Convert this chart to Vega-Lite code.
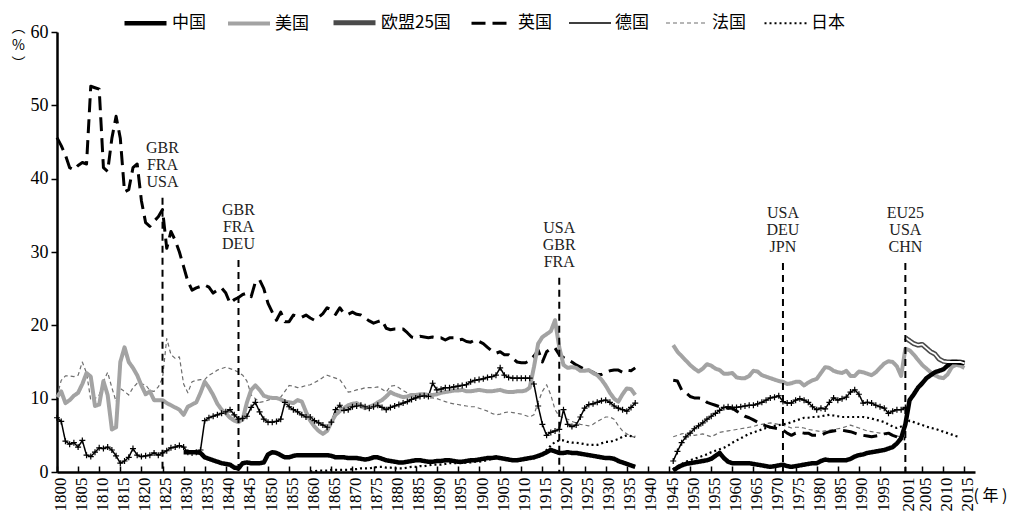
{
"$schema":"https://vega.github.io/schema/vega-lite/v6.json",
"width":918,"height":440,"autosize":"none",
"padding":{"left":57,"top":32,"right":40,"bottom":45},
"background":"white",
"config":{"view":{"stroke":null},"font":"Liberation Serif"},
"data":{"values":[
{"c":"法国","t":1800,"v":10.3},{"c":"法国","t":1801,"v":12.5},{"c":"法国","t":1802,"v":13.1},{"c":"法国","t":1803,"v":13.1},{"c":"法国","t":1804,"v":13.0},{"c":"法国","t":1805,"v":13.2},{"c":"法国","t":1806,"v":15.0},{"c":"法国","t":1807,"v":13.5},{"c":"法国","t":1808,"v":9.8},{"c":"法国","t":1809,"v":10.0},{"c":"法国","t":1810,"v":10.5},{"c":"法国","t":1811,"v":12.3},{"c":"法国","t":1812,"v":13.6},{"c":"法国","t":1813,"v":11.5},{"c":"法国","t":1814,"v":9.6},{"c":"法国","t":1815,"v":11.4},{"c":"法国","t":1816,"v":11.0},{"c":"法国","t":1817,"v":10.5},{"c":"法国","t":1818,"v":11.5},{"c":"法国","t":1819,"v":12.1},{"c":"法国","t":1820,"v":12.0},{"c":"法国","t":1821,"v":11.9},{"c":"法国","t":1822,"v":11.1},{"c":"法国","t":1823,"v":11.0},{"c":"法国","t":1824,"v":11.6},{"c":"法国","t":1825,"v":12.8},{"c":"法国","t":1826,"v":18.2},{"c":"法国","t":1827,"v":16.0},{"c":"法国","t":1828,"v":15.5},{"c":"法国","t":1829,"v":15.7},{"c":"法国","t":1830,"v":12.0},{"c":"法国","t":1831,"v":10.8},{"c":"法国","t":1832,"v":12.3},{"c":"法国","t":1833,"v":12.5},{"c":"法国","t":1834,"v":12.6},{"c":"法国","t":1835,"v":12.6},{"c":"法国","t":1836,"v":13.2},{"c":"法国","t":1837,"v":13.5},{"c":"法国","t":1838,"v":13.9},{"c":"法国","t":1839,"v":14.1},{"c":"法国","t":1840,"v":14.3},{"c":"法国","t":1841,"v":14.1},{"c":"法国","t":1842,"v":13.9},{"c":"法国","t":1843,"v":13.6},{"c":"法国","t":1844,"v":13.2},{"c":"法国","t":1845,"v":12.4},{"c":"法国","t":1846,"v":10.5},{"c":"法国","t":1847,"v":10.0},{"c":"法国","t":1848,"v":9.5},{"c":"法国","t":1849,"v":9.6},{"c":"法国","t":1850,"v":9.8},{"c":"法国","t":1851,"v":10.0},{"c":"法国","t":1852,"v":10.1},{"c":"法国","t":1853,"v":10.2},{"c":"法国","t":1854,"v":11.0},{"c":"法国","t":1855,"v":11.8},{"c":"法国","t":1856,"v":11.7},{"c":"法国","t":1857,"v":11.5},{"c":"法国","t":1858,"v":11.6},{"c":"法国","t":1859,"v":11.8},{"c":"法国","t":1860,"v":11.9},{"c":"法国","t":1861,"v":12.2},{"c":"法国","t":1862,"v":12.5},{"c":"法国","t":1863,"v":12.9},{"c":"法国","t":1864,"v":13.2},{"c":"法国","t":1865,"v":13.0},{"c":"法国","t":1866,"v":12.8},{"c":"法国","t":1867,"v":12.6},{"c":"法国","t":1868,"v":11.8},{"c":"法国","t":1869,"v":10.9},{"c":"法国","t":1870,"v":11.0},{"c":"法国","t":1871,"v":11.2},{"c":"法国","t":1872,"v":11.3},{"c":"法国","t":1873,"v":11.5},{"c":"法国","t":1874,"v":11.5},{"c":"法国","t":1875,"v":11.5},{"c":"法国","t":1876,"v":11.6},{"c":"法国","t":1877,"v":11.3},{"c":"法国","t":1878,"v":10.9},{"c":"法国","t":1879,"v":11.7},{"c":"法国","t":1880,"v":11.8},{"c":"法国","t":1881,"v":11.5},{"c":"法国","t":1882,"v":11.1},{"c":"法国","t":1883,"v":10.8},{"c":"法国","t":1884,"v":10.5},{"c":"法国","t":1885,"v":10.5},{"c":"法国","t":1886,"v":10.5},{"c":"法国","t":1887,"v":10.3},{"c":"法国","t":1888,"v":10.1},{"c":"法国","t":1889,"v":10.1},{"c":"法国","t":1890,"v":10.0},{"c":"法国","t":1891,"v":9.8},{"c":"法国","t":1892,"v":9.6},{"c":"法国","t":1893,"v":9.4},{"c":"法国","t":1894,"v":9.3},{"c":"法国","t":1895,"v":9.2},{"c":"法国","t":1896,"v":9.1},{"c":"法国","t":1897,"v":9.0},{"c":"法国","t":1898,"v":8.9},{"c":"法国","t":1899,"v":8.9},{"c":"法国","t":1900,"v":8.7},{"c":"法国","t":1901,"v":8.5},{"c":"法国","t":1902,"v":8.3},{"c":"法国","t":1903,"v":8.0},{"c":"法国","t":1904,"v":7.8},{"c":"法国","t":1905,"v":7.9},{"c":"法国","t":1906,"v":8.1},{"c":"法国","t":1907,"v":8.2},{"c":"法国","t":1908,"v":8.1},{"c":"法国","t":1909,"v":8.0},{"c":"法国","t":1910,"v":7.9},{"c":"法国","t":1911,"v":7.7},{"c":"法国","t":1912,"v":7.5},{"c":"法国","t":1913,"v":7.8},{"c":"法国","t":1914,"v":9.5},{"c":"法国","t":1915,"v":11.0},{"c":"法国","t":1916,"v":11.9},{"c":"法国","t":1917,"v":10.5},{"c":"法国","t":1918,"v":8.5},{"c":"法国","t":1919,"v":7.6},{"c":"法国","t":1920,"v":7.4},{"c":"法国","t":1921,"v":7.2},{"c":"法国","t":1922,"v":6.9},{"c":"法国","t":1923,"v":6.7},{"c":"法国","t":1924,"v":6.5},{"c":"法国","t":1925,"v":6.4},{"c":"法国","t":1926,"v":6.3},{"c":"法国","t":1927,"v":6.5},{"c":"法国","t":1928,"v":6.9},{"c":"法国","t":1929,"v":7.2},{"c":"法国","t":1930,"v":7.5},{"c":"法国","t":1931,"v":7.5},{"c":"法国","t":1932,"v":7.2},{"c":"法国","t":1933,"v":6.3},{"c":"法国","t":1934,"v":5.6},{"c":"法国","t":1935,"v":5.2},{"c":"法国","t":1936,"v":4.9},{"c":"法国","t":1937,"v":4.7},{"c":"法国","t":1940,"v":null},
{"c":"法国","t":1946,"v":4.8},{"c":"法国","t":1947,"v":5.0},{"c":"法国","t":1948,"v":5.2},{"c":"法国","t":1949,"v":5.3},{"c":"法国","t":1950,"v":5.2},{"c":"法国","t":1951,"v":5.0},{"c":"法国","t":1952,"v":5.1},{"c":"法国","t":1953,"v":5.2},{"c":"法国","t":1954,"v":5.0},{"c":"法国","t":1955,"v":4.8},{"c":"法国","t":1956,"v":5.1},{"c":"法国","t":1957,"v":5.4},{"c":"法国","t":1958,"v":5.5},{"c":"法国","t":1959,"v":5.6},{"c":"法国","t":1960,"v":5.7},{"c":"法国","t":1961,"v":5.8},{"c":"法国","t":1962,"v":5.9},{"c":"法国","t":1963,"v":6.0},{"c":"法国","t":1964,"v":6.1},{"c":"法国","t":1965,"v":6.2},{"c":"法国","t":1966,"v":6.4},{"c":"法国","t":1967,"v":6.5},{"c":"法国","t":1968,"v":6.6},{"c":"法国","t":1969,"v":6.7},{"c":"法国","t":1970,"v":6.6},{"c":"法国","t":1971,"v":6.5},{"c":"法国","t":1972,"v":6.4},{"c":"法国","t":1973,"v":6.2},{"c":"法国","t":1974,"v":6.0},{"c":"法国","t":1975,"v":6.1},{"c":"法国","t":1976,"v":6.1},{"c":"法国","t":1977,"v":6.0},{"c":"法国","t":1978,"v":5.8},{"c":"法国","t":1979,"v":5.7},{"c":"法国","t":1980,"v":5.6},{"c":"法国","t":1981,"v":5.5},{"c":"法国","t":1982,"v":5.6},{"c":"法国","t":1983,"v":5.7},{"c":"法国","t":1984,"v":5.8},{"c":"法国","t":1985,"v":5.9},{"c":"法国","t":1986,"v":6.0},{"c":"法国","t":1987,"v":6.2},{"c":"法国","t":1988,"v":6.4},{"c":"法国","t":1989,"v":6.2},{"c":"法国","t":1990,"v":6.0},{"c":"法国","t":1991,"v":5.8},{"c":"法国","t":1992,"v":5.6},{"c":"法国","t":1993,"v":5.5},{"c":"法国","t":1994,"v":5.4},{"c":"法国","t":1995,"v":5.3},{"c":"法国","t":1996,"v":5.2},{"c":"法国","t":1997,"v":5.0},{"c":"法国","t":1998,"v":5.0},{"c":"法国","t":1999,"v":4.9},{"c":"法国","t":2000,"v":4.8},{"c":"法国","t":2001,"v":4.7},
{"c":"日本","t":1860,"v":0.1},{"c":"日本","t":1861,"v":0.1},{"c":"日本","t":1862,"v":0.2},{"c":"日本","t":1863,"v":0.2},{"c":"日本","t":1864,"v":0.2},{"c":"日本","t":1865,"v":0.3},{"c":"日本","t":1866,"v":0.3},{"c":"日本","t":1867,"v":0.3},{"c":"日本","t":1868,"v":0.3},{"c":"日本","t":1869,"v":0.3},{"c":"日本","t":1870,"v":0.4},{"c":"日本","t":1871,"v":0.4},{"c":"日本","t":1872,"v":0.5},{"c":"日本","t":1873,"v":0.5},{"c":"日本","t":1874,"v":0.5},{"c":"日本","t":1875,"v":0.6},{"c":"日本","t":1876,"v":0.7},{"c":"日本","t":1877,"v":0.7},{"c":"日本","t":1878,"v":0.6},{"c":"日本","t":1879,"v":0.6},{"c":"日本","t":1880,"v":0.5},{"c":"日本","t":1881,"v":0.5},{"c":"日本","t":1882,"v":0.5},{"c":"日本","t":1883,"v":0.6},{"c":"日本","t":1884,"v":0.7},{"c":"日本","t":1885,"v":0.7},{"c":"日本","t":1886,"v":0.8},{"c":"日本","t":1887,"v":0.8},{"c":"日本","t":1888,"v":0.9},{"c":"日本","t":1889,"v":1.0},{"c":"日本","t":1890,"v":1.0},{"c":"日本","t":1891,"v":1.0},{"c":"日本","t":1892,"v":1.1},{"c":"日本","t":1893,"v":1.2},{"c":"日本","t":1894,"v":1.2},{"c":"日本","t":1895,"v":1.2},{"c":"日本","t":1896,"v":1.2},{"c":"日本","t":1897,"v":1.3},{"c":"日本","t":1898,"v":1.3},{"c":"日本","t":1899,"v":1.4},{"c":"日本","t":1900,"v":1.4},{"c":"日本","t":1901,"v":1.5},{"c":"日本","t":1902,"v":1.6},{"c":"日本","t":1903,"v":1.8},{"c":"日本","t":1904,"v":1.9},{"c":"日本","t":1905,"v":1.8},{"c":"日本","t":1906,"v":1.7},{"c":"日本","t":1907,"v":1.6},{"c":"日本","t":1908,"v":1.6},{"c":"日本","t":1909,"v":1.7},{"c":"日本","t":1910,"v":1.7},{"c":"日本","t":1911,"v":1.8},{"c":"日本","t":1912,"v":1.9},{"c":"日本","t":1913,"v":1.9},{"c":"日本","t":1914,"v":2.0},{"c":"日本","t":1915,"v":2.4},{"c":"日本","t":1916,"v":3.0},{"c":"日本","t":1917,"v":3.6},{"c":"日本","t":1918,"v":4.1},{"c":"日本","t":1919,"v":4.3},{"c":"日本","t":1920,"v":4.3},{"c":"日本","t":1921,"v":4.1},{"c":"日本","t":1922,"v":4.0},{"c":"日本","t":1923,"v":4.0},{"c":"日本","t":1924,"v":3.9},{"c":"日本","t":1925,"v":3.8},{"c":"日本","t":1926,"v":3.7},{"c":"日本","t":1927,"v":3.7},{"c":"日本","t":1928,"v":3.7},{"c":"日本","t":1929,"v":3.9},{"c":"日本","t":1930,"v":4.1},{"c":"日本","t":1931,"v":4.1},{"c":"日本","t":1932,"v":4.3},{"c":"日本","t":1933,"v":4.5},{"c":"日本","t":1934,"v":4.8},{"c":"日本","t":1935,"v":5.0},{"c":"日本","t":1936,"v":4.9},{"c":"日本","t":1937,"v":4.8},{"c":"日本","t":1940,"v":null},
{"c":"日本","t":1946,"v":0.4},{"c":"日本","t":1947,"v":0.8},{"c":"日本","t":1948,"v":1.1},{"c":"日本","t":1949,"v":1.4},{"c":"日本","t":1950,"v":1.6},{"c":"日本","t":1951,"v":1.8},{"c":"日本","t":1952,"v":2.0},{"c":"日本","t":1953,"v":2.2},{"c":"日本","t":1954,"v":2.4},{"c":"日本","t":1955,"v":2.7},{"c":"日本","t":1956,"v":2.9},{"c":"日本","t":1957,"v":3.1},{"c":"日本","t":1958,"v":3.3},{"c":"日本","t":1959,"v":3.6},{"c":"日本","t":1960,"v":4.0},{"c":"日本","t":1961,"v":4.3},{"c":"日本","t":1962,"v":4.6},{"c":"日本","t":1963,"v":4.9},{"c":"日本","t":1964,"v":5.2},{"c":"日本","t":1965,"v":5.4},{"c":"日本","t":1966,"v":5.6},{"c":"日本","t":1967,"v":5.8},{"c":"日本","t":1968,"v":6.0},{"c":"日本","t":1969,"v":6.1},{"c":"日本","t":1970,"v":6.3},{"c":"日本","t":1971,"v":6.4},{"c":"日本","t":1972,"v":6.5},{"c":"日本","t":1973,"v":6.6},{"c":"日本","t":1974,"v":6.8},{"c":"日本","t":1975,"v":7.0},{"c":"日本","t":1976,"v":7.2},{"c":"日本","t":1977,"v":7.4},{"c":"日本","t":1978,"v":7.4},{"c":"日本","t":1979,"v":7.5},{"c":"日本","t":1980,"v":7.5},{"c":"日本","t":1981,"v":7.6},{"c":"日本","t":1982,"v":7.7},{"c":"日本","t":1983,"v":7.8},{"c":"日本","t":1984,"v":7.7},{"c":"日本","t":1985,"v":7.6},{"c":"日本","t":1986,"v":7.5},{"c":"日本","t":1987,"v":7.5},{"c":"日本","t":1988,"v":7.5},{"c":"日本","t":1989,"v":7.5},{"c":"日本","t":1990,"v":7.5},{"c":"日本","t":1991,"v":7.5},{"c":"日本","t":1992,"v":7.4},{"c":"日本","t":1993,"v":7.3},{"c":"日本","t":1994,"v":7.1},{"c":"日本","t":1995,"v":7.0},{"c":"日本","t":1996,"v":6.8},{"c":"日本","t":1997,"v":6.5},{"c":"日本","t":1998,"v":6.2},{"c":"日本","t":1999,"v":6.0},{"c":"日本","t":2000,"v":6.2},{"c":"日本","t":2001,"v":6.5},{"c":"日本","t":2002,"v":7.0},{"c":"日本","t":2003,"v":6.8},{"c":"日本","t":2004,"v":6.6},{"c":"日本","t":2005,"v":6.4},{"c":"日本","t":2006,"v":6.2},{"c":"日本","t":2007,"v":6.0},{"c":"日本","t":2008,"v":5.9},{"c":"日本","t":2009,"v":5.7},{"c":"日本","t":2010,"v":5.5},{"c":"日本","t":2011,"v":5.3},{"c":"日本","t":2012,"v":5.1},{"c":"日本","t":2013,"v":4.9},{"c":"日本","t":2014,"v":4.8},
{"c":"德国","t":1800,"v":7.4},{"c":"德国","t":1801,"v":6.9},{"c":"德国","t":1802,"v":4.2},{"c":"德国","t":1803,"v":3.8},{"c":"德国","t":1804,"v":4.0},{"c":"德国","t":1805,"v":3.4},{"c":"德国","t":1806,"v":4.3},{"c":"德国","t":1807,"v":2.3},{"c":"德国","t":1808,"v":2.1},{"c":"德国","t":1809,"v":2.7},{"c":"德国","t":1810,"v":3.3},{"c":"德国","t":1811,"v":3.2},{"c":"德国","t":1812,"v":3.4},{"c":"德国","t":1813,"v":3.0},{"c":"德国","t":1814,"v":2.2},{"c":"德国","t":1815,"v":1.2},{"c":"德国","t":1816,"v":1.5},{"c":"德国","t":1817,"v":2.0},{"c":"德国","t":1818,"v":3.2},{"c":"德国","t":1819,"v":2.3},{"c":"德国","t":1820,"v":2.1},{"c":"德国","t":1821,"v":2.2},{"c":"德国","t":1822,"v":2.3},{"c":"德国","t":1823,"v":2.6},{"c":"德国","t":1824,"v":2.3},{"c":"德国","t":1825,"v":2.6},{"c":"德国","t":1826,"v":2.9},{"c":"德国","t":1827,"v":3.3},{"c":"德国","t":1828,"v":3.4},{"c":"德国","t":1829,"v":3.6},{"c":"德国","t":1830,"v":3.4},{"c":"德国","t":1831,"v":2.7},{"c":"德国","t":1832,"v":2.6},{"c":"德国","t":1833,"v":2.7},{"c":"德国","t":1834,"v":3.0},{"c":"德国","t":1835,"v":7.0},{"c":"德国","t":1836,"v":7.4},{"c":"德国","t":1837,"v":7.6},{"c":"德国","t":1838,"v":7.8},{"c":"德国","t":1839,"v":8.0},{"c":"德国","t":1840,"v":8.2},{"c":"德国","t":1841,"v":8.5},{"c":"德国","t":1842,"v":7.8},{"c":"德国","t":1843,"v":7.2},{"c":"德国","t":1844,"v":7.3},{"c":"德国","t":1845,"v":7.6},{"c":"德国","t":1846,"v":8.8},{"c":"德国","t":1847,"v":9.5},{"c":"德国","t":1848,"v":8.2},{"c":"德国","t":1849,"v":7.2},{"c":"德国","t":1850,"v":6.8},{"c":"德国","t":1851,"v":6.8},{"c":"德国","t":1852,"v":6.9},{"c":"德国","t":1853,"v":7.2},{"c":"德国","t":1854,"v":9.5},{"c":"德国","t":1855,"v":8.9},{"c":"德国","t":1856,"v":8.5},{"c":"德国","t":1857,"v":8.2},{"c":"德国","t":1858,"v":7.8},{"c":"德国","t":1859,"v":7.5},{"c":"德国","t":1860,"v":7.5},{"c":"德国","t":1861,"v":7.0},{"c":"德国","t":1862,"v":6.7},{"c":"德国","t":1863,"v":6.4},{"c":"德国","t":1864,"v":6.1},{"c":"德国","t":1865,"v":6.8},{"c":"德国","t":1866,"v":8.5},{"c":"德国","t":1867,"v":9.1},{"c":"德国","t":1868,"v":8.4},{"c":"德国","t":1869,"v":8.5},{"c":"德国","t":1870,"v":8.9},{"c":"德国","t":1871,"v":9.0},{"c":"德国","t":1872,"v":9.1},{"c":"德国","t":1873,"v":8.9},{"c":"德国","t":1874,"v":8.7},{"c":"德国","t":1875,"v":8.9},{"c":"德国","t":1876,"v":9.1},{"c":"德国","t":1877,"v":8.8},{"c":"德国","t":1878,"v":8.5},{"c":"德国","t":1879,"v":8.8},{"c":"德国","t":1880,"v":9.0},{"c":"德国","t":1881,"v":9.2},{"c":"德国","t":1882,"v":9.4},{"c":"德国","t":1883,"v":9.6},{"c":"德国","t":1884,"v":9.9},{"c":"德国","t":1885,"v":10.1},{"c":"德国","t":1886,"v":10.3},{"c":"德国","t":1887,"v":10.4},{"c":"德国","t":1888,"v":10.3},{"c":"德国","t":1889,"v":12.1},{"c":"德国","t":1890,"v":11.2},{"c":"德国","t":1891,"v":11.3},{"c":"德国","t":1892,"v":11.5},{"c":"德国","t":1893,"v":11.5},{"c":"德国","t":1894,"v":11.6},{"c":"德国","t":1895,"v":11.7},{"c":"德国","t":1896,"v":11.8},{"c":"德国","t":1897,"v":11.9},{"c":"德国","t":1898,"v":12.3},{"c":"德国","t":1899,"v":12.5},{"c":"德国","t":1900,"v":12.6},{"c":"德国","t":1901,"v":12.7},{"c":"德国","t":1902,"v":12.9},{"c":"德国","t":1903,"v":13.0},{"c":"德国","t":1904,"v":13.2},{"c":"德国","t":1905,"v":14.2},{"c":"德国","t":1906,"v":13.2},{"c":"德国","t":1907,"v":12.9},{"c":"德国","t":1908,"v":12.8},{"c":"德国","t":1909,"v":12.8},{"c":"德国","t":1910,"v":12.8},{"c":"德国","t":1911,"v":12.8},{"c":"德国","t":1912,"v":12.8},{"c":"德国","t":1913,"v":12.0},{"c":"德国","t":1914,"v":9.0},{"c":"德国","t":1915,"v":6.5},{"c":"德国","t":1916,"v":5.0},{"c":"德国","t":1917,"v":5.4},{"c":"德国","t":1918,"v":5.6},{"c":"德国","t":1919,"v":5.8},{"c":"德国","t":1920,"v":8.5},{"c":"德国","t":1921,"v":6.5},{"c":"德国","t":1922,"v":6.2},{"c":"德国","t":1923,"v":6.4},{"c":"德国","t":1924,"v":7.5},{"c":"德国","t":1925,"v":8.7},{"c":"德国","t":1926,"v":9.2},{"c":"德国","t":1927,"v":9.3},{"c":"德国","t":1928,"v":9.5},{"c":"德国","t":1929,"v":9.7},{"c":"德国","t":1930,"v":9.8},{"c":"德国","t":1931,"v":9.5},{"c":"德国","t":1932,"v":9.0},{"c":"德国","t":1933,"v":8.7},{"c":"德国","t":1934,"v":8.5},{"c":"德国","t":1935,"v":8.3},{"c":"德国","t":1936,"v":8.8},{"c":"德国","t":1937,"v":9.4},{"c":"德国","t":1940,"v":null},
{"c":"德国","t":1946,"v":1.5},{"c":"德国","t":1947,"v":2.8},{"c":"德国","t":1948,"v":4.0},{"c":"德国","t":1949,"v":4.8},{"c":"德国","t":1950,"v":5.3},{"c":"德国","t":1951,"v":5.9},{"c":"德国","t":1952,"v":6.3},{"c":"德国","t":1953,"v":6.7},{"c":"德国","t":1954,"v":7.2},{"c":"德国","t":1955,"v":7.6},{"c":"德国","t":1956,"v":8.0},{"c":"德国","t":1957,"v":8.4},{"c":"德国","t":1958,"v":8.8},{"c":"德国","t":1959,"v":8.9},{"c":"德国","t":1960,"v":8.8},{"c":"德国","t":1961,"v":8.8},{"c":"德国","t":1962,"v":8.9},{"c":"德国","t":1963,"v":9.0},{"c":"德国","t":1964,"v":9.1},{"c":"德国","t":1965,"v":9.1},{"c":"德国","t":1966,"v":9.3},{"c":"德国","t":1967,"v":9.5},{"c":"德国","t":1968,"v":9.8},{"c":"德国","t":1969,"v":10.1},{"c":"德国","t":1970,"v":10.2},{"c":"德国","t":1971,"v":10.4},{"c":"德国","t":1972,"v":9.6},{"c":"德国","t":1973,"v":9.4},{"c":"德国","t":1974,"v":9.4},{"c":"德国","t":1975,"v":9.8},{"c":"德国","t":1976,"v":10.0},{"c":"德国","t":1977,"v":9.8},{"c":"德国","t":1978,"v":9.5},{"c":"德国","t":1979,"v":8.9},{"c":"德国","t":1980,"v":8.5},{"c":"德国","t":1981,"v":8.7},{"c":"德国","t":1982,"v":8.6},{"c":"德国","t":1983,"v":9.5},{"c":"德国","t":1984,"v":10.1},{"c":"德国","t":1985,"v":9.8},{"c":"德国","t":1986,"v":10.0},{"c":"德国","t":1987,"v":10.2},{"c":"德国","t":1988,"v":10.9},{"c":"德国","t":1989,"v":11.2},{"c":"德国","t":1990,"v":10.6},{"c":"德国","t":1991,"v":9.4},{"c":"德国","t":1992,"v":9.5},{"c":"德国","t":1993,"v":9.4},{"c":"德国","t":1994,"v":9.1},{"c":"德国","t":1995,"v":8.9},{"c":"德国","t":1996,"v":8.7},{"c":"德国","t":1997,"v":8.0},{"c":"德国","t":1998,"v":8.3},{"c":"德国","t":1999,"v":8.5},{"c":"德国","t":2000,"v":8.5},{"c":"德国","t":2001,"v":8.8},
{"c":"英国","t":1800,"v":45.6},{"c":"英国","t":1801,"v":44.5},{"c":"英国","t":1802,"v":43.2},{"c":"英国","t":1803,"v":41.5},{"c":"英国","t":1804,"v":41.2},{"c":"英国","t":1805,"v":41.8},{"c":"英国","t":1806,"v":42.2},{"c":"英国","t":1807,"v":42.0},{"c":"英国","t":1808,"v":52.6},{"c":"英国","t":1809,"v":52.4},{"c":"英国","t":1810,"v":52.2},{"c":"英国","t":1811,"v":41.5},{"c":"英国","t":1812,"v":41.0},{"c":"英国","t":1813,"v":45.5},{"c":"英国","t":1814,"v":48.5},{"c":"英国","t":1815,"v":45.5},{"c":"英国","t":1816,"v":38.2},{"c":"英国","t":1817,"v":38.5},{"c":"英国","t":1818,"v":41.5},{"c":"英国","t":1819,"v":42.0},{"c":"英国","t":1820,"v":37.0},{"c":"英国","t":1821,"v":34.0},{"c":"英国","t":1822,"v":33.5},{"c":"英国","t":1823,"v":34.2},{"c":"英国","t":1824,"v":34.8},{"c":"英国","t":1825,"v":35.8},{"c":"英国","t":1826,"v":30.5},{"c":"英国","t":1827,"v":32.8},{"c":"英国","t":1828,"v":31.6},{"c":"英国","t":1829,"v":30.0},{"c":"英国","t":1830,"v":28.0},{"c":"英国","t":1831,"v":26.0},{"c":"英国","t":1832,"v":24.8},{"c":"英国","t":1833,"v":25.1},{"c":"英国","t":1834,"v":25.3},{"c":"英国","t":1835,"v":25.5},{"c":"英国","t":1836,"v":25.2},{"c":"英国","t":1837,"v":24.4},{"c":"英国","t":1838,"v":24.8},{"c":"英国","t":1839,"v":25.1},{"c":"英国","t":1840,"v":24.4},{"c":"英国","t":1841,"v":23.0},{"c":"英国","t":1842,"v":23.5},{"c":"英国","t":1843,"v":23.8},{"c":"英国","t":1844,"v":24.2},{"c":"英国","t":1845,"v":24.4},{"c":"英国","t":1846,"v":23.9},{"c":"英国","t":1847,"v":25.9},{"c":"英国","t":1848,"v":26.2},{"c":"英国","t":1849,"v":25.0},{"c":"英国","t":1850,"v":23.0},{"c":"英国","t":1851,"v":21.8},{"c":"英国","t":1852,"v":20.7},{"c":"英国","t":1853,"v":21.8},{"c":"英国","t":1854,"v":20.5},{"c":"英国","t":1855,"v":20.5},{"c":"英国","t":1856,"v":21.4},{"c":"英国","t":1857,"v":21.2},{"c":"英国","t":1858,"v":21.1},{"c":"英国","t":1859,"v":21.4},{"c":"英国","t":1860,"v":21.0},{"c":"英国","t":1861,"v":20.7},{"c":"英国","t":1862,"v":21.1},{"c":"英国","t":1863,"v":21.6},{"c":"英国","t":1864,"v":22.4},{"c":"英国","t":1865,"v":22.1},{"c":"英国","t":1866,"v":21.5},{"c":"英国","t":1867,"v":22.4},{"c":"英国","t":1868,"v":21.6},{"c":"英国","t":1869,"v":21.5},{"c":"英国","t":1870,"v":21.8},{"c":"英国","t":1871,"v":21.5},{"c":"英国","t":1872,"v":21.4},{"c":"英国","t":1873,"v":21.0},{"c":"英国","t":1874,"v":20.6},{"c":"英国","t":1875,"v":20.3},{"c":"英国","t":1876,"v":20.5},{"c":"英国","t":1877,"v":20.7},{"c":"英国","t":1878,"v":19.6},{"c":"英国","t":1879,"v":19.4},{"c":"英国","t":1880,"v":19.5},{"c":"英国","t":1881,"v":19.5},{"c":"英国","t":1882,"v":19.5},{"c":"英国","t":1883,"v":19.0},{"c":"英国","t":1884,"v":18.4},{"c":"英国","t":1885,"v":18.3},{"c":"英国","t":1886,"v":18.5},{"c":"英国","t":1887,"v":18.4},{"c":"英国","t":1888,"v":18.3},{"c":"英国","t":1889,"v":18.4},{"c":"英国","t":1890,"v":18.3},{"c":"英国","t":1891,"v":18.3},{"c":"英国","t":1892,"v":18.0},{"c":"英国","t":1893,"v":18.3},{"c":"英国","t":1894,"v":18.3},{"c":"英国","t":1895,"v":18.0},{"c":"英国","t":1896,"v":18.1},{"c":"英国","t":1897,"v":17.8},{"c":"英国","t":1898,"v":17.7},{"c":"英国","t":1899,"v":18.0},{"c":"英国","t":1900,"v":17.8},{"c":"英国","t":1901,"v":17.5},{"c":"英国","t":1902,"v":17.0},{"c":"英国","t":1903,"v":16.5},{"c":"英国","t":1904,"v":16.2},{"c":"英国","t":1905,"v":16.4},{"c":"英国","t":1906,"v":16.0},{"c":"英国","t":1907,"v":16.0},{"c":"英国","t":1908,"v":15.5},{"c":"英国","t":1909,"v":15.0},{"c":"英国","t":1910,"v":14.9},{"c":"英国","t":1911,"v":14.9},{"c":"英国","t":1912,"v":15.2},{"c":"英国","t":1913,"v":15.8},{"c":"英国","t":1914,"v":16.6},{"c":"英国","t":1915,"v":15.0},{"c":"英国","t":1916,"v":16.4},{"c":"英国","t":1917,"v":16.8},{"c":"英国","t":1918,"v":16.9},{"c":"英国","t":1919,"v":16.0},{"c":"英国","t":1920,"v":15.6},{"c":"英国","t":1921,"v":15.3},{"c":"英国","t":1922,"v":15.0},{"c":"英国","t":1923,"v":14.6},{"c":"英国","t":1924,"v":14.3},{"c":"英国","t":1925,"v":14.0},{"c":"英国","t":1926,"v":13.8},{"c":"英国","t":1927,"v":13.6},{"c":"英国","t":1928,"v":13.3},{"c":"英国","t":1929,"v":13.3},{"c":"英国","t":1930,"v":13.6},{"c":"英国","t":1931,"v":13.8},{"c":"英国","t":1932,"v":13.9},{"c":"英国","t":1933,"v":13.9},{"c":"英国","t":1934,"v":13.6},{"c":"英国","t":1935,"v":13.9},{"c":"英国","t":1936,"v":13.8},{"c":"英国","t":1937,"v":14.2},{"c":"英国","t":1940,"v":null},
{"c":"英国","t":1946,"v":12.5},{"c":"英国","t":1947,"v":12.4},{"c":"英国","t":1948,"v":11.2},{"c":"英国","t":1949,"v":10.8},{"c":"英国","t":1950,"v":10.3},{"c":"英国","t":1951,"v":10.1},{"c":"英国","t":1952,"v":10.1},{"c":"英国","t":1953,"v":10.0},{"c":"英国","t":1954,"v":9.5},{"c":"英国","t":1955,"v":9.3},{"c":"英国","t":1956,"v":9.1},{"c":"英国","t":1957,"v":8.9},{"c":"英国","t":1958,"v":8.8},{"c":"英国","t":1959,"v":8.7},{"c":"英国","t":1960,"v":8.7},{"c":"英国","t":1961,"v":8.3},{"c":"英国","t":1962,"v":8.0},{"c":"英国","t":1963,"v":7.6},{"c":"英国","t":1964,"v":7.4},{"c":"英国","t":1965,"v":7.1},{"c":"英国","t":1966,"v":6.8},{"c":"英国","t":1967,"v":6.5},{"c":"英国","t":1968,"v":6.3},{"c":"英国","t":1969,"v":6.1},{"c":"英国","t":1970,"v":6.0},{"c":"英国","t":1971,"v":5.9},{"c":"英国","t":1972,"v":5.7},{"c":"英国","t":1973,"v":5.3},{"c":"英国","t":1974,"v":5.0},{"c":"英国","t":1975,"v":5.3},{"c":"英国","t":1976,"v":5.4},{"c":"英国","t":1977,"v":5.3},{"c":"英国","t":1978,"v":5.3},{"c":"英国","t":1979,"v":5.0},{"c":"英国","t":1980,"v":5.0},{"c":"英国","t":1981,"v":5.0},{"c":"英国","t":1982,"v":5.3},{"c":"英国","t":1983,"v":5.5},{"c":"英国","t":1984,"v":5.6},{"c":"英国","t":1985,"v":5.7},{"c":"英国","t":1986,"v":5.7},{"c":"英国","t":1987,"v":5.6},{"c":"英国","t":1988,"v":5.5},{"c":"英国","t":1989,"v":5.3},{"c":"英国","t":1990,"v":5.1},{"c":"英国","t":1991,"v":5.0},{"c":"英国","t":1992,"v":4.9},{"c":"英国","t":1993,"v":4.8},{"c":"英国","t":1994,"v":4.9},{"c":"英国","t":1995,"v":5.0},{"c":"英国","t":1996,"v":5.2},{"c":"英国","t":1997,"v":5.3},{"c":"英国","t":1998,"v":5.0},{"c":"英国","t":1999,"v":4.8},{"c":"英国","t":2000,"v":4.6},{"c":"英国","t":2001,"v":4.5},
{"c":"美国","t":1800,"v":10.2},{"c":"美国","t":1801,"v":11.0},{"c":"美国","t":1802,"v":9.4},{"c":"美国","t":1803,"v":9.8},{"c":"美国","t":1804,"v":10.4},{"c":"美国","t":1805,"v":10.8},{"c":"美国","t":1806,"v":12.0},{"c":"美国","t":1807,"v":13.5},{"c":"美国","t":1808,"v":13.0},{"c":"美国","t":1809,"v":9.0},{"c":"美国","t":1810,"v":9.2},{"c":"美国","t":1811,"v":12.4},{"c":"美国","t":1812,"v":10.5},{"c":"美国","t":1813,"v":5.8},{"c":"美国","t":1814,"v":6.1},{"c":"美国","t":1815,"v":15.0},{"c":"美国","t":1816,"v":17.0},{"c":"美国","t":1817,"v":15.0},{"c":"美国","t":1818,"v":14.2},{"c":"美国","t":1819,"v":13.2},{"c":"美国","t":1820,"v":11.8},{"c":"美国","t":1821,"v":10.6},{"c":"美国","t":1822,"v":11.0},{"c":"美国","t":1823,"v":9.8},{"c":"美国","t":1824,"v":9.8},{"c":"美国","t":1825,"v":9.8},{"c":"美国","t":1826,"v":9.4},{"c":"美国","t":1827,"v":9.1},{"c":"美国","t":1828,"v":8.8},{"c":"美国","t":1829,"v":8.5},{"c":"美国","t":1830,"v":7.8},{"c":"美国","t":1831,"v":8.9},{"c":"美国","t":1832,"v":9.2},{"c":"美国","t":1833,"v":9.5},{"c":"美国","t":1834,"v":10.8},{"c":"美国","t":1835,"v":12.3},{"c":"美国","t":1836,"v":11.5},{"c":"美国","t":1837,"v":10.5},{"c":"美国","t":1838,"v":9.3},{"c":"美国","t":1839,"v":8.5},{"c":"美国","t":1840,"v":8.0},{"c":"美国","t":1841,"v":7.4},{"c":"美国","t":1842,"v":7.0},{"c":"美国","t":1843,"v":6.8},{"c":"美国","t":1844,"v":7.2},{"c":"美国","t":1845,"v":9.5},{"c":"美国","t":1846,"v":11.2},{"c":"美国","t":1847,"v":11.8},{"c":"美国","t":1848,"v":11.2},{"c":"美国","t":1849,"v":10.4},{"c":"美国","t":1850,"v":10.2},{"c":"美国","t":1851,"v":10.1},{"c":"美国","t":1852,"v":10.1},{"c":"美国","t":1853,"v":9.9},{"c":"美国","t":1854,"v":9.6},{"c":"美国","t":1855,"v":9.5},{"c":"美国","t":1856,"v":9.4},{"c":"美国","t":1857,"v":9.8},{"c":"美国","t":1858,"v":9.6},{"c":"美国","t":1859,"v":8.2},{"c":"美国","t":1860,"v":7.0},{"c":"美国","t":1861,"v":6.2},{"c":"美国","t":1862,"v":5.6},{"c":"美国","t":1863,"v":5.2},{"c":"美国","t":1864,"v":5.6},{"c":"美国","t":1865,"v":6.8},{"c":"美国","t":1866,"v":7.8},{"c":"美国","t":1867,"v":8.3},{"c":"美国","t":1868,"v":8.7},{"c":"美国","t":1869,"v":9.1},{"c":"美国","t":1870,"v":9.3},{"c":"美国","t":1871,"v":9.4},{"c":"美国","t":1872,"v":9.0},{"c":"美国","t":1873,"v":8.7},{"c":"美国","t":1874,"v":8.9},{"c":"美国","t":1875,"v":9.1},{"c":"美国","t":1876,"v":9.5},{"c":"美国","t":1877,"v":9.8},{"c":"美国","t":1878,"v":10.3},{"c":"美国","t":1879,"v":10.9},{"c":"美国","t":1880,"v":10.6},{"c":"美国","t":1881,"v":10.4},{"c":"美国","t":1882,"v":10.2},{"c":"美国","t":1883,"v":10.3},{"c":"美国","t":1884,"v":10.5},{"c":"美国","t":1885,"v":10.5},{"c":"美国","t":1886,"v":10.6},{"c":"美国","t":1887,"v":10.6},{"c":"美国","t":1888,"v":10.5},{"c":"美国","t":1889,"v":10.5},{"c":"美国","t":1890,"v":10.6},{"c":"美国","t":1891,"v":10.8},{"c":"美国","t":1892,"v":10.9},{"c":"美国","t":1893,"v":11.0},{"c":"美国","t":1894,"v":11.1},{"c":"美国","t":1895,"v":11.1},{"c":"美国","t":1896,"v":11.2},{"c":"美国","t":1897,"v":11.0},{"c":"美国","t":1898,"v":11.0},{"c":"美国","t":1899,"v":11.1},{"c":"美国","t":1900,"v":11.2},{"c":"美国","t":1901,"v":11.1},{"c":"美国","t":1902,"v":11.0},{"c":"美国","t":1903,"v":11.0},{"c":"美国","t":1904,"v":11.1},{"c":"美国","t":1905,"v":11.2},{"c":"美国","t":1906,"v":11.0},{"c":"美国","t":1907,"v":10.9},{"c":"美国","t":1908,"v":10.9},{"c":"美国","t":1909,"v":11.0},{"c":"美国","t":1910,"v":11.0},{"c":"美国","t":1911,"v":11.1},{"c":"美国","t":1912,"v":11.5},{"c":"美国","t":1913,"v":14.3},{"c":"美国","t":1914,"v":17.5},{"c":"美国","t":1915,"v":18.4},{"c":"美国","t":1916,"v":18.8},{"c":"美国","t":1917,"v":19.2},{"c":"美国","t":1918,"v":20.7},{"c":"美国","t":1919,"v":17.0},{"c":"美国","t":1920,"v":14.6},{"c":"美国","t":1921,"v":14.2},{"c":"美国","t":1922,"v":14.3},{"c":"美国","t":1923,"v":14.2},{"c":"美国","t":1924,"v":13.8},{"c":"美国","t":1925,"v":13.8},{"c":"美国","t":1926,"v":13.9},{"c":"美国","t":1927,"v":13.5},{"c":"美国","t":1928,"v":13.2},{"c":"美国","t":1929,"v":12.6},{"c":"美国","t":1930,"v":11.8},{"c":"美国","t":1931,"v":10.8},{"c":"美国","t":1932,"v":10.0},{"c":"美国","t":1933,"v":9.6},{"c":"美国","t":1934,"v":10.6},{"c":"美国","t":1935,"v":11.4},{"c":"美国","t":1936,"v":11.3},{"c":"美国","t":1937,"v":10.5},{"c":"美国","t":1940,"v":null},
{"c":"美国","t":1946,"v":17.3},{"c":"美国","t":1947,"v":16.4},{"c":"美国","t":1948,"v":15.8},{"c":"美国","t":1949,"v":15.2},{"c":"美国","t":1950,"v":14.6},{"c":"美国","t":1951,"v":14.1},{"c":"美国","t":1952,"v":13.7},{"c":"美国","t":1953,"v":14.1},{"c":"美国","t":1954,"v":14.7},{"c":"美国","t":1955,"v":14.5},{"c":"美国","t":1956,"v":14.1},{"c":"美国","t":1957,"v":13.9},{"c":"美国","t":1958,"v":13.4},{"c":"美国","t":1959,"v":13.4},{"c":"美国","t":1960,"v":13.5},{"c":"美国","t":1961,"v":12.9},{"c":"美国","t":1962,"v":12.8},{"c":"美国","t":1963,"v":12.8},{"c":"美国","t":1964,"v":13.1},{"c":"美国","t":1965,"v":13.8},{"c":"美国","t":1966,"v":13.7},{"c":"美国","t":1967,"v":13.2},{"c":"美国","t":1968,"v":13.0},{"c":"美国","t":1969,"v":12.8},{"c":"美国","t":1970,"v":12.6},{"c":"美国","t":1971,"v":12.4},{"c":"美国","t":1972,"v":12.3},{"c":"美国","t":1973,"v":12.0},{"c":"美国","t":1974,"v":12.1},{"c":"美国","t":1975,"v":12.3},{"c":"美国","t":1976,"v":12.3},{"c":"美国","t":1977,"v":11.8},{"c":"美国","t":1978,"v":12.2},{"c":"美国","t":1979,"v":12.5},{"c":"美国","t":1980,"v":12.7},{"c":"美国","t":1981,"v":13.5},{"c":"美国","t":1982,"v":14.3},{"c":"美国","t":1983,"v":14.2},{"c":"美国","t":1984,"v":13.8},{"c":"美国","t":1985,"v":13.6},{"c":"美国","t":1986,"v":13.5},{"c":"美国","t":1987,"v":13.8},{"c":"美国","t":1988,"v":13.1},{"c":"美国","t":1989,"v":13.1},{"c":"美国","t":1990,"v":13.7},{"c":"美国","t":1991,"v":13.6},{"c":"美国","t":1992,"v":13.4},{"c":"美国","t":1993,"v":13.2},{"c":"美国","t":1994,"v":13.6},{"c":"美国","t":1995,"v":14.2},{"c":"美国","t":1996,"v":14.8},{"c":"美国","t":1997,"v":15.1},{"c":"美国","t":1998,"v":15.0},{"c":"美国","t":1999,"v":14.4},{"c":"美国","t":2000,"v":13.1},{"c":"美国","t":2001,"v":16.8},{"c":"美国","t":2002,"v":16.6},{"c":"美国","t":2003,"v":16.0},{"c":"美国","t":2004,"v":15.3},{"c":"美国","t":2005,"v":14.6},{"c":"美国","t":2006,"v":14.1},{"c":"美国","t":2007,"v":13.6},{"c":"美国","t":2008,"v":13.2},{"c":"美国","t":2009,"v":12.9},{"c":"美国","t":2010,"v":12.8},{"c":"美国","t":2011,"v":13.3},{"c":"美国","t":2012,"v":14.3},{"c":"美国","t":2013,"v":14.6},{"c":"美国","t":2014,"v":14.5},{"c":"美国","t":2015,"v":14.2},
{"c":"欧盟25国","t":2001,"v":18.3},{"c":"欧盟25国","t":2002,"v":17.9},{"c":"欧盟25国","t":2003,"v":17.5},{"c":"欧盟25国","t":2004,"v":17.3},{"c":"欧盟25国","t":2005,"v":17.4},{"c":"欧盟25国","t":2006,"v":16.9},{"c":"欧盟25国","t":2007,"v":16.4},{"c":"欧盟25国","t":2008,"v":16.1},{"c":"欧盟25国","t":2009,"v":15.4},{"c":"欧盟25国","t":2010,"v":15.1},{"c":"欧盟25国","t":2011,"v":15.0},{"c":"欧盟25国","t":2012,"v":15.0},{"c":"欧盟25国","t":2013,"v":15.0},{"c":"欧盟25国","t":2014,"v":15.0},{"c":"欧盟25国","t":2015,"v":14.8},
{"c":"中国","t":1830,"v":2.7},{"c":"中国","t":1831,"v":2.7},{"c":"中国","t":1832,"v":2.7},{"c":"中国","t":1833,"v":2.7},{"c":"中国","t":1834,"v":2.6},{"c":"中国","t":1835,"v":2.0},{"c":"中国","t":1836,"v":1.8},{"c":"中国","t":1837,"v":1.6},{"c":"中国","t":1838,"v":1.4},{"c":"中国","t":1839,"v":1.2},{"c":"中国","t":1840,"v":1.1},{"c":"中国","t":1841,"v":1.0},{"c":"中国","t":1842,"v":0.6},{"c":"中国","t":1843,"v":0.5},{"c":"中国","t":1844,"v":1.2},{"c":"中国","t":1845,"v":1.3},{"c":"中国","t":1846,"v":1.2},{"c":"中国","t":1847,"v":1.2},{"c":"中国","t":1848,"v":1.2},{"c":"中国","t":1849,"v":1.3},{"c":"中国","t":1850,"v":2.4},{"c":"中国","t":1851,"v":2.7},{"c":"中国","t":1852,"v":2.6},{"c":"中国","t":1853,"v":2.3},{"c":"中国","t":1854,"v":2.0},{"c":"中国","t":1855,"v":2.0},{"c":"中国","t":1856,"v":2.2},{"c":"中国","t":1857,"v":2.3},{"c":"中国","t":1858,"v":2.3},{"c":"中国","t":1859,"v":2.3},{"c":"中国","t":1860,"v":2.3},{"c":"中国","t":1861,"v":2.3},{"c":"中国","t":1862,"v":2.3},{"c":"中国","t":1863,"v":2.3},{"c":"中国","t":1864,"v":2.3},{"c":"中国","t":1865,"v":2.2},{"c":"中国","t":1866,"v":2.0},{"c":"中国","t":1867,"v":2.0},{"c":"中国","t":1868,"v":2.0},{"c":"中国","t":1869,"v":1.9},{"c":"中国","t":1870,"v":1.9},{"c":"中国","t":1871,"v":1.9},{"c":"中国","t":1872,"v":1.8},{"c":"中国","t":1873,"v":1.7},{"c":"中国","t":1874,"v":1.8},{"c":"中国","t":1875,"v":2.0},{"c":"中国","t":1876,"v":2.0},{"c":"中国","t":1877,"v":1.8},{"c":"中国","t":1878,"v":1.6},{"c":"中国","t":1879,"v":1.5},{"c":"中国","t":1880,"v":1.4},{"c":"中国","t":1881,"v":1.3},{"c":"中国","t":1882,"v":1.3},{"c":"中国","t":1883,"v":1.4},{"c":"中国","t":1884,"v":1.5},{"c":"中国","t":1885,"v":1.6},{"c":"中国","t":1886,"v":1.6},{"c":"中国","t":1887,"v":1.5},{"c":"中国","t":1888,"v":1.4},{"c":"中国","t":1889,"v":1.4},{"c":"中国","t":1890,"v":1.5},{"c":"中国","t":1891,"v":1.5},{"c":"中国","t":1892,"v":1.6},{"c":"中国","t":1893,"v":1.6},{"c":"中国","t":1894,"v":1.5},{"c":"中国","t":1895,"v":1.4},{"c":"中国","t":1896,"v":1.4},{"c":"中国","t":1897,"v":1.5},{"c":"中国","t":1898,"v":1.6},{"c":"中国","t":1899,"v":1.6},{"c":"中国","t":1900,"v":1.7},{"c":"中国","t":1901,"v":1.8},{"c":"中国","t":1902,"v":1.9},{"c":"中国","t":1903,"v":1.9},{"c":"中国","t":1904,"v":2.0},{"c":"中国","t":1905,"v":1.9},{"c":"中国","t":1906,"v":1.8},{"c":"中国","t":1907,"v":1.7},{"c":"中国","t":1908,"v":1.6},{"c":"中国","t":1909,"v":1.6},{"c":"中国","t":1910,"v":1.7},{"c":"中国","t":1911,"v":1.8},{"c":"中国","t":1912,"v":1.9},{"c":"中国","t":1913,"v":2.0},{"c":"中国","t":1914,"v":2.2},{"c":"中国","t":1915,"v":2.4},{"c":"中国","t":1916,"v":2.7},{"c":"中国","t":1917,"v":3.0},{"c":"中国","t":1918,"v":2.8},{"c":"中国","t":1919,"v":2.6},{"c":"中国","t":1920,"v":2.6},{"c":"中国","t":1921,"v":2.7},{"c":"中国","t":1922,"v":2.6},{"c":"中国","t":1923,"v":2.6},{"c":"中国","t":1924,"v":2.5},{"c":"中国","t":1925,"v":2.4},{"c":"中国","t":1926,"v":2.3},{"c":"中国","t":1927,"v":2.2},{"c":"中国","t":1928,"v":2.1},{"c":"中国","t":1929,"v":2.0},{"c":"中国","t":1930,"v":1.9},{"c":"中国","t":1931,"v":1.9},{"c":"中国","t":1932,"v":1.8},{"c":"中国","t":1933,"v":1.5},{"c":"中国","t":1934,"v":1.3},{"c":"中国","t":1935,"v":1.1},{"c":"中国","t":1936,"v":0.9},{"c":"中国","t":1937,"v":0.7},{"c":"中国","t":1940,"v":null},
{"c":"中国","t":1946,"v":0.2},{"c":"中国","t":1947,"v":0.6},{"c":"中国","t":1948,"v":0.9},{"c":"中国","t":1949,"v":1.1},{"c":"中国","t":1950,"v":1.2},{"c":"中国","t":1951,"v":1.3},{"c":"中国","t":1952,"v":1.4},{"c":"中国","t":1953,"v":1.5},{"c":"中国","t":1954,"v":1.6},{"c":"中国","t":1955,"v":1.8},{"c":"中国","t":1956,"v":2.2},{"c":"中国","t":1957,"v":2.6},{"c":"中国","t":1958,"v":1.9},{"c":"中国","t":1959,"v":1.4},{"c":"中国","t":1960,"v":1.2},{"c":"中国","t":1961,"v":1.2},{"c":"中国","t":1962,"v":1.2},{"c":"中国","t":1963,"v":1.2},{"c":"中国","t":1964,"v":1.2},{"c":"中国","t":1965,"v":1.1},{"c":"中国","t":1966,"v":1.0},{"c":"中国","t":1967,"v":0.9},{"c":"中国","t":1968,"v":0.8},{"c":"中国","t":1969,"v":0.7},{"c":"中国","t":1970,"v":0.8},{"c":"中国","t":1971,"v":0.9},{"c":"中国","t":1972,"v":1.0},{"c":"中国","t":1973,"v":0.8},{"c":"中国","t":1974,"v":0.7},{"c":"中国","t":1975,"v":0.8},{"c":"中国","t":1976,"v":0.9},{"c":"中国","t":1977,"v":1.0},{"c":"中国","t":1978,"v":1.1},{"c":"中国","t":1979,"v":1.2},{"c":"中国","t":1980,"v":1.2},{"c":"中国","t":1981,"v":1.5},{"c":"中国","t":1982,"v":1.7},{"c":"中国","t":1983,"v":1.6},{"c":"中国","t":1984,"v":1.6},{"c":"中国","t":1985,"v":1.6},{"c":"中国","t":1986,"v":1.6},{"c":"中国","t":1987,"v":1.6},{"c":"中国","t":1988,"v":1.8},{"c":"中国","t":1989,"v":2.1},{"c":"中国","t":1990,"v":2.3},{"c":"中国","t":1991,"v":2.4},{"c":"中国","t":1992,"v":2.6},{"c":"中国","t":1993,"v":2.7},{"c":"中国","t":1994,"v":2.8},{"c":"中国","t":1995,"v":2.9},{"c":"中国","t":1996,"v":3.0},{"c":"中国","t":1997,"v":3.2},{"c":"中国","t":1998,"v":3.4},{"c":"中国","t":1999,"v":3.9},{"c":"中国","t":2000,"v":4.6},{"c":"中国","t":2001,"v":6.5},{"c":"中国","t":2002,"v":9.8},{"c":"中国","t":2003,"v":10.6},{"c":"中国","t":2004,"v":11.5},{"c":"中国","t":2005,"v":12.1},{"c":"中国","t":2006,"v":12.8},{"c":"中国","t":2007,"v":13.2},{"c":"中国","t":2008,"v":13.6},{"c":"中国","t":2009,"v":13.8},{"c":"中国","t":2010,"v":14.0},{"c":"中国","t":2011,"v":14.5},{"c":"中国","t":2012,"v":15.0},{"c":"中国","t":2013,"v":15.0},{"c":"中国","t":2014,"v":14.9},{"c":"中国","t":2015,"v":14.9}
]},
"encoding":{
"x":{"field":"t","type":"quantitative","scale":{"domain":[1800,2017.5],"nice":false,"zero":false},
"axis":{"values":[1800,1805,1810,1815,1820,1825,1830,1835,1840,1845,1850,1855,1860,1865,1870,1875,1880,1885,1890,1895,1900,1905,1910,1915,1920,1925,1930,1935,1940,1945,1950,1955,1960,1965,1970,1975,1980,1985,1990,1995,2001,2005,2010,2015],
"format":"d","labelAngle":-90,"labelFont":"Liberation Serif","labelFontSize":17,"labelColor":"black","labelOverlap":false,"labelFlush":false,"labelOffset":3,"labelPadding":11,
"tickSize":-6,"tickColor":"black","tickWidth":1.5,"domainColor":"black","domainWidth":2.5,"grid":false,
"title":"( 年 )","titleFont":"Noto Sans CJK SC","titleFontSize":16,"titleFontWeight":"normal","titleColor":"black","titleAngle":0,"titleX":933,"titleY":23,"titleAlign":"center","titleBaseline":"middle"}},
"y":{"field":"v","type":"quantitative","scale":{"domain":[0,60],"nice":false},
"axis":{"values":[0,10,20,30,40,50,60],"labelFont":"Liberation Serif","labelFontSize":18,"labelColor":"black","labelPadding":3,
"tickSize":6,"tickColor":"black","tickWidth":1.5,"domainColor":"black","domainWidth":2.5,"grid":false,
"title":["︵","%","︶"],"titleFont":"Noto Sans CJK SC","titleFontSize":14,"titleFontWeight":"normal","titleColor":"black","titleAngle":0,"titleX":-39,"titleY":-12,"titleAlign":"center","titleBaseline":"top","titleLineHeight":18}}
},
"layer":[
{"mark":{"type":"line","strokeCap":"butt","strokeJoin":"round"},
"encoding":{
"color":{"field":"c","type":"nominal","scale":{"domain":["中国","美国","欧盟25国","英国","德国","法国","日本"],"range":["#000000","#a3a3a3","#4a4a4a","#000000","#000000","#6e6e6e","#000000"]},
"legend":{"orient":"none","legendX":65,"legendY":-33,"direction":"horizontal","title":null,"symbolType":"stroke","symbolSize":1764,"labelFont":"Noto Sans CJK SC","labelFontSize":17,"labelColor":"black","labelOffset":3,"columnPadding":14,"padding":0}},
"strokeDash":{"field":"c","type":"nominal","scale":{"domain":["中国","美国","欧盟25国","英国","德国","法国","日本"],"range":[[1,0],[1,0],[1,0],[14,7],[1,0],[4,3],[2,3]]}},
"strokeWidth":{"field":"c","type":"nominal","scale":{"type":"ordinal","domain":["中国","美国","欧盟25国","英国","德国","法国","日本"],"range":[4.5,4,5,3,1.5,1.2,2.2]}}
}},
{"transform":[{"filter":"datum.c == '欧盟25国'"}],
"mark":{"type":"line","color":"white","strokeWidth":1.8}},
{"transform":[{"filter":"datum.c == '德国' && datum.v != null"}],
"mark":{"type":"point","shape":"M-1,0H1M0,-1V1","size":36,"filled":false,"stroke":"black","strokeWidth":1.2,"opacity":1}},
{"data":{"values":[{"t":1825,"v":37.4,"lab":"GBR\nFRA\nUSA"},{"t":1843,"v":28.9,"lab":"GBR\nFRA\nDEU"},{"t":1919,"v":26.5,"lab":"USA\nGBR\nFRA"},{"t":1972,"v":28.5,"lab":"USA\nDEU\nJPN"},{"t":2001,"v":28.5,"lab":"EU25\nUSA\nCHN"}]},
"layer":[
{"mark":{"type":"rule","color":"black","strokeWidth":2,"strokeDash":[7,5]},"encoding":{"y2":{"datum":0}}},
{"mark":{"type":"text","font":"Liberation Serif","fontSize":16,"lineHeight":17,"baseline":"bottom","align":"center","dy":-42,"lineBreak":"\n","color":"#222"},"encoding":{"text":{"field":"lab"}}}
]}
]
}
